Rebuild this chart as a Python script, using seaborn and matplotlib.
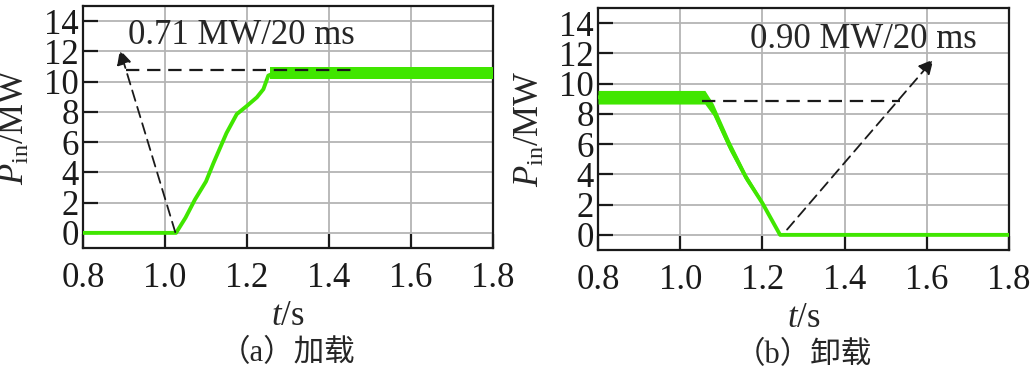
import matplotlib
matplotlib.use("Agg")
import matplotlib.pyplot as plt
import seaborn as sns
import pandas as pd

# (a) loading: mean trace
t_load = [0.80, 1.027, 1.05, 1.073, 1.10, 1.118, 1.15, 1.175, 1.20, 1.224, 1.24, 1.252, 1.265, 1.80]
p_load = [0.0, 0.0, 1.0, 2.2, 3.4, 4.6, 6.6, 7.85, 8.4, 8.96, 9.5, 10.4, 10.55, 10.55]
# ripple band on the plateau
t_load_band = [1.255, 1.80]
lo_load_band = [10.15, 10.15]
hi_load_band = [10.95, 10.95]

# (b) unloading
t_unload = [0.80, 1.06, 1.08, 1.12, 1.16, 1.20, 1.243, 1.80]
p_unload = [9.1, 9.1, 8.3, 5.9, 3.8, 2.1, 0.0, 0.0]
lo_unload = [8.65, 8.65, 7.9, 5.55, 3.55, 1.95, 0.0, 0.0]
hi_unload = [9.55, 9.55, 8.7, 6.25, 4.05, 2.25, 0.0, 0.0]

x_ticks = [0.8, 1.0, 1.2, 1.4, 1.6, 1.8]
y_ticks = [0, 2, 4, 6, 8, 10, 12, 14]

sns.set_theme(style="whitegrid")
plt.rcParams["font.family"] = ["Liberation Serif", "Noto Sans CJK SC"]
plt.rcParams["mathtext.fontset"] = "custom"
plt.rcParams["mathtext.rm"] = "Liberation Serif"
plt.rcParams["mathtext.it"] = "Liberation Serif:italic"

green = "#40e600"
fs = 25

fig = plt.figure(figsize=(10.31, 3.74), dpi=100)
ax1 = fig.add_axes([83 / 1031, 1 - 248 / 374, 410 / 1031, 242 / 374])
ax2 = fig.add_axes([598 / 1031, 1 - 250 / 374, 411 / 1031, 242 / 374])

df_a = pd.DataFrame({"t": t_load, "p": p_load})
df_b = pd.DataFrame({"t": t_unload, "p": p_unload})

sns.lineplot(data=df_a, x="t", y="p", ax=ax1, color=green, lw=2.8, zorder=3)
ax1.fill_between(t_load_band, lo_load_band, hi_load_band, color=green, lw=0, zorder=3)

sns.lineplot(data=df_b, x="t", y="p", ax=ax2, color=green, lw=2.8, zorder=3)
ax2.fill_between(t_unload, lo_unload, hi_unload, color=green, lw=0, zorder=3)

# annotations
ax1.plot([0.906, 1.459], [10.78, 10.78], color="k", lw=1.6, ls=(0, (6, 3.5)), zorder=4)
ax1.annotate("", xy=(0.89, 12.1), xytext=(1.025, 0.05),
             arrowprops=dict(arrowstyle="-|>", color="k", lw=1.3, ls=(0, (6, 3.5)),
                             mutation_scale=22, shrinkA=0, shrinkB=0), zorder=4)
ax1.text(0.91, 13.06, "0.71 MW/20 ms", fontsize=fs, ha="left", va="center")

ax2.plot([1.052, 1.535], [8.88, 8.88], color="k", lw=1.6, ls=(0, (6, 3.5)), zorder=4)
ax2.annotate("", xy=(1.616, 11.6), xytext=(1.26, 0.35),
             arrowprops=dict(arrowstyle="-|>", color="k", lw=1.3, ls=(0, (6, 3.5)),
                             mutation_scale=22, shrinkA=0, shrinkB=0), zorder=4)
ax2.text(1.17, 12.9, "0.90 MW/20 ms", fontsize=fs, ha="left", va="center")

for ax, cap in [(ax1, "（a）加载"), (ax2, "（b）卸载")]:
    ax.set_xlim(0.8, 1.8)
    ax.set_ylim(-1, 15)
    ax.set_xticks(x_ticks)
    ax.set_xticklabels([f"{v:.1f}" for v in x_ticks])
    ax.set_yticks(y_ticks)
    ax.grid(True, color="#b4b4b4", lw=1.3)
    ax.set_facecolor("white")
    for s in ax.spines.values():
        s.set_color("k")
        s.set_linewidth(1.6)
    ax.tick_params(axis="x", direction="in", length=10, width=1.6, pad=10,
                   labelsize=fs, bottom=True, top=False, colors="k")
    ax.tick_params(axis="y", direction="in", length=11, width=1.6, pad=3,
                   labelsize=fs, left=True, right=False, colors="k")
    ax.set_xlabel("$t$/s", fontsize=fs)
    ax.set_ylabel(r"$P_{\mathrm{in}}$/MW", fontsize=fs)
    ax.xaxis.set_label_coords(0.5, -0.215)
    ax.yaxis.set_label_coords(-0.125, 0.5)
    ax.text(0.5, -0.435, cap, transform=ax.transAxes, fontsize=fs - 3,
            ha="center", va="center")

fig.savefig("out.png", dpi=100, facecolor="white")
